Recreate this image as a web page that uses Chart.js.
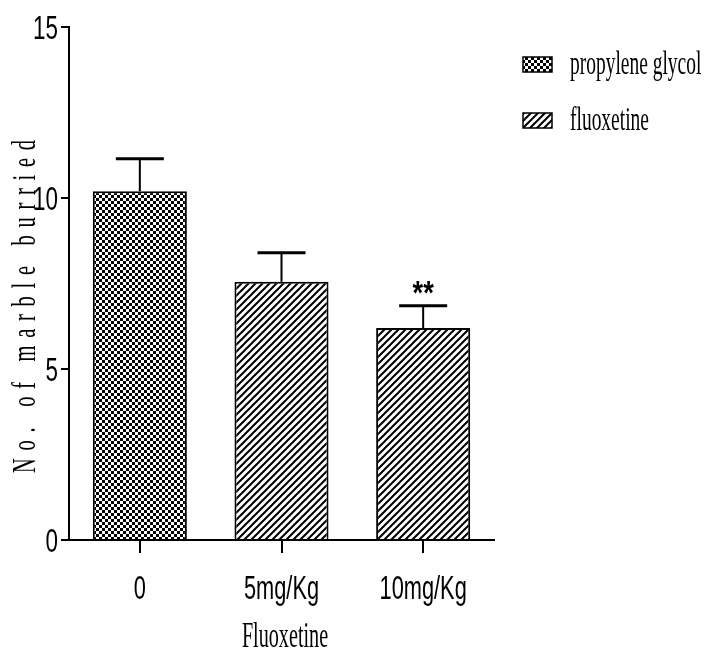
<!DOCTYPE html>
<html>
<head>
<meta charset="utf-8">
<script src="https://cdn.jsdelivr.net/npm/chart.js@4.4.0/dist/chart.umd.min.js"></script>
<style>
  html, body { margin: 0; padding: 0; background: #fff; }
  #wrap { width: 705px; height: 661px; }
</style>
</head>
<body>
<div id="wrap"><canvas id="c" width="705" height="661"></canvas></div>
<script>
// ---- data ----
const categories = ['0', '5mg/Kg', '10mg/Kg'];
const seriesNames = ['propylene glycol', 'fluoxetine'];
const propyleneGlycol = [10.2, null, null];
const fluoxetine = [null, 7.55, 6.2];
const propyleneGlycolErr = [0.95, null, null];
const fluoxetineErr = [null, 0.85, 0.65];
const significance = ['', '', '**'];
const yTicks = [0, 5, 10, 15];
const yTitle = 'No. of marble burried';
const xTitle = 'Fluoxetine';

// ---- patterns ----
function checkerPattern() {
  const c = document.createElement('canvas');
  c.width = 6; c.height = 6;
  const g = c.getContext('2d');
  g.fillStyle = '#fff'; g.fillRect(0, 0, 6, 6);
  g.fillStyle = '#000';
  g.fillRect(0, 0, 3, 3); g.fillRect(3, 3, 3, 3);
  return g.createPattern(c, 'repeat');
}
function hatchPattern() {
  const s = 7;
  const c = document.createElement('canvas');
  c.width = s; c.height = s;
  const g = c.getContext('2d');
  g.fillStyle = '#fff'; g.fillRect(0, 0, s, s);
  g.strokeStyle = '#000'; g.lineWidth = 2;
  g.beginPath();
  g.moveTo(-1, s + 1); g.lineTo(s + 1, -1);
  g.moveTo(-1, 1); g.lineTo(1, -1);
  g.moveTo(s - 1, s + 1); g.lineTo(s + 1, s - 1);
  g.stroke();
  return g.createPattern(c, 'repeat');
}
const checker = checkerPattern();
const hatch = hatchPattern();
const fills = [checker, hatch];
const errs = [propyleneGlycolErr, fluoxetineErr];

function drawText(ctx, text, x, y, family, size, sx, align, baseline, weight) {
  ctx.save();
  ctx.translate(x, y);
  ctx.scale(sx, 1);
  ctx.font = (weight ? weight + ' ' : '') + size + 'px ' + family;
  ctx.textAlign = align;
  ctx.textBaseline = baseline;
  ctx.fillStyle = '#000';
  ctx.fillText(text, 0, 0);
  ctx.restore();
}

const SANS = '"Liberation Sans Narrow", "Liberation Sans", sans-serif';
const SERIF = '"Liberation Serif", "DejaVu Serif", serif';

const decorPlugin = {
  id: 'decor',
  afterDatasetsDraw(chart) {
    const ctx = chart.ctx;
    const ys = chart.scales.y;
    chart.data.datasets.forEach((ds, di) => {
      const meta = chart.getDatasetMeta(di);
      ds.data.forEach((v, i) => {
        if (v === null) return;
        const bar = meta.data[i];
        const top = ys.getPixelForValue(v + errs[di][i]);
        ctx.save();
        ctx.strokeStyle = '#000';
        ctx.lineWidth = 2;
        ctx.beginPath();
        ctx.moveTo(bar.x, bar.y);
        ctx.lineTo(bar.x, top);
        ctx.stroke();
        ctx.lineWidth = 3;
        ctx.beginPath();
        ctx.moveTo(bar.x - 24, top);
        ctx.lineTo(bar.x + 24, top);
        ctx.stroke();
        ctx.restore();
        if (significance[i]) {
          drawText(ctx, significance[i], bar.x, top - 2, SANS, 34, 0.8, 'center', 'alphabetic', 'bold');
        }
      });
    });
  },
  afterDraw(chart) {
    const ctx = chart.ctx;
    const xs = chart.scales.x, ys = chart.scales.y;
    yTicks.forEach(t => {
      drawText(ctx, String(t), 58, ys.getPixelForValue(t) + 12, SANS, 33, 0.68, 'right', 'alphabetic');
    });
    categories.forEach((c, i) => {
      drawText(ctx, c, xs.getPixelForValue(i), 599, SANS, 33, 0.66, 'center', 'alphabetic');
    });
    drawText(ctx, xTitle, 285, 647, SERIF, 36, 0.56, 'center', 'alphabetic');
    // y title (rotated, letter-spaced)
    ctx.save();
    ctx.translate(35, 473);
    ctx.rotate(-Math.PI / 2);
    const sx = 0.62;
    ctx.scale(sx, 1);
    ctx.font = '33px ' + SERIF;
    ctx.fillStyle = '#000';
    ctx.textAlign = 'left';
    ctx.textBaseline = 'alphabetic';
    const w0 = ctx.measureText(yTitle).width;
    const sp = (333 / sx - w0) / (yTitle.length - 1);
    let pos = 0;
    for (const ch of yTitle) {
      ctx.fillText(ch, pos, 0);
      pos += ctx.measureText(ch).width + sp;
    }
    ctx.restore();
    // legend
    const boxes = [[523, 57], [523, 113]];
    seriesNames.forEach((name, i) => {
      const [bx, by] = boxes[i];
      ctx.save();
      ctx.fillStyle = fills[i];
      ctx.fillRect(bx, by, 29, 15);
      ctx.strokeStyle = '#000';
      ctx.lineWidth = 1.5;
      ctx.strokeRect(bx, by, 29, 15);
      ctx.restore();
      drawText(ctx, name, 570, by + 17, SERIF, 33, 0.59, 'left', 'alphabetic');
    });
  }
};

new Chart(document.getElementById('c'), {
  type: 'bar',
  data: {
    labels: categories,
    datasets: [
      { label: seriesNames[0], data: propyleneGlycol, backgroundColor: checker, borderColor: '#000', borderWidth: 2 },
      { label: seriesNames[1], data: fluoxetine, backgroundColor: hatch, borderColor: '#000', borderWidth: 2 }
    ]
  },
  options: {
    responsive: false,
    animation: false,
    devicePixelRatio: 1,
    skipNull: true,
    categoryPercentage: 1,
    barPercentage: 0.664,
    layout: { padding: { left: 61, top: 27, right: 211, bottom: 108 } },
    plugins: { legend: { display: false }, tooltip: { enabled: false } },
    scales: {
      x: {
        grid: { display: true, drawOnChartArea: false, drawTicks: true, tickLength: 13, color: '#000', lineWidth: 2, offset: false },
        border: { display: true, color: '#000', width: 2 },
        ticks: { display: false }
      },
      y: {
        min: 0, max: 15,
        grid: { display: true, drawOnChartArea: false, drawTicks: true, tickLength: 8, color: '#000', lineWidth: 2 },
        border: { display: true, color: '#000', width: 2 },
        ticks: { display: false, stepSize: 5 }
      }
    }
  },
  plugins: [decorPlugin]
});
</script>
</body>
</html>
